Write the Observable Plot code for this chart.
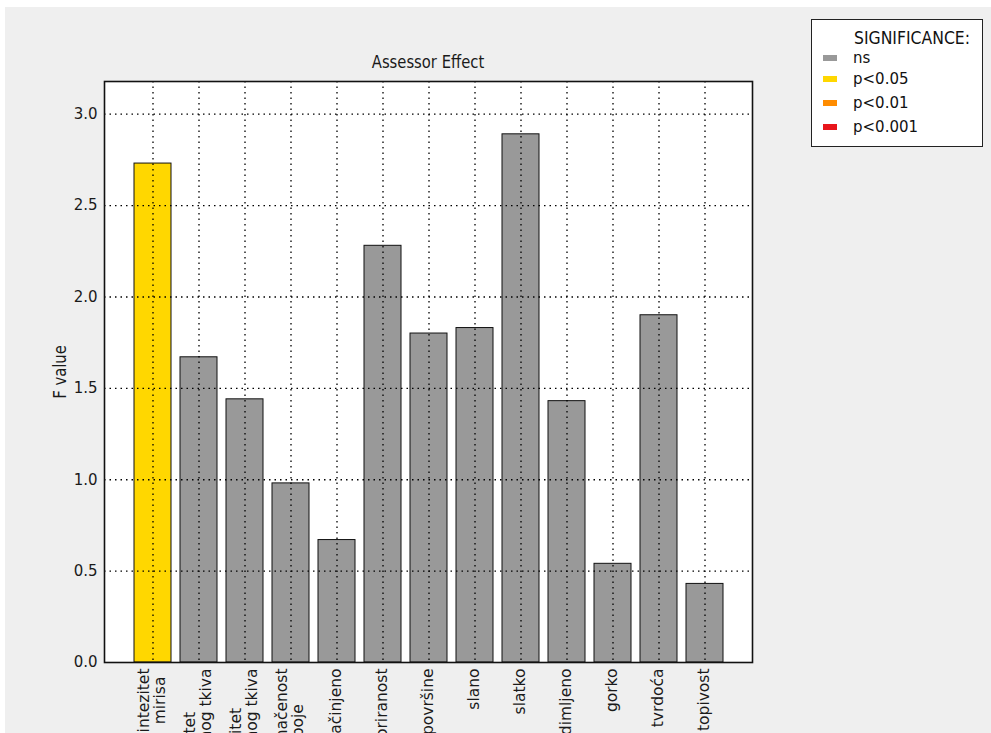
<!DOCTYPE html>
<html>
<head>
<meta charset="utf-8">
<script src="https://cdn.jsdelivr.net/npm/d3@7"></script>
<script src="https://cdn.jsdelivr.net/npm/@observablehq/plot@0.6"></script>
<style>
  html, body { margin: 0; padding: 0; background: #ffffff; overflow: hidden; width: 991px; height: 733px; }
  #fig { position: absolute; left: 5px; top: 7px; width: 986px; height: 800px; background: #efefef; overflow: hidden; }
  #chart { position: absolute; left: 0; top: 0; }
  #title { position: absolute; left: 273px; top: 45px; width: 300px; text-align: center; font-family: "DejaVu Sans", sans-serif; font-size: 17px; line-height: 20px; color: #1a1a1a; transform: scaleX(0.87); white-space: nowrap; }
  #ylabel { position: absolute; left: 5px; top: 355px; width: 100px; text-align: center; font-family: "DejaVu Sans", sans-serif; font-size: 17px; line-height: 20px; color: #1a1a1a; transform: rotate(-90deg) scaleX(0.87); white-space: nowrap; }
  #legend { position: absolute; left: 806px; top: 12px; width: 170px; height: 126px; background: #fff; border: 1px solid #222; font-family: "DejaVu Sans", sans-serif; color: #111; }
  #legend .title { position: absolute; left: 42px; top: 8px; font-family: "DejaVu Sans", sans-serif; font-size: 17px; transform: scaleX(0.92); transform-origin: 0 0; white-space: nowrap; }
  #legend .item { position: absolute; left: 11px; font-size: 15px; line-height: 18px; height: 18px; }
  #legend .sw { position: absolute; left: 0; top: 6px; width: 14px; height: 6px; }
  #legend .lb { position: absolute; left: 30px; top: 0; white-space: nowrap; }
</style>
</head>
<body>
<div id="fig">
  <div id="chart"></div>
  <div id="title"></div>
  <div id="ylabel"></div>
  <div id="legend"></div>
</div>
<script>
// ---- data ----
const categories = [
  "intezitet\nmirisa",
  "intezitet\nboje mišićnog tkiva",
  "intezitet\nboje masnog tkiva",
  "ujednačenost\nboje",
  "začinjeno",
  "mramoriranost",
  "izgled površine",
  "slano",
  "slatko",
  "dimljeno",
  "gorko",
  "tvrdoća",
  "topivost"
];
const fValues = [2.73, 1.67, 1.44, 0.98, 0.67, 2.28, 1.80, 1.83, 2.89, 1.43, 0.54, 1.90, 0.43];
const significance = ["p<0.05", "ns", "ns", "ns", "ns", "ns", "ns", "ns", "ns", "ns", "ns", "ns", "ns"];
const sigLabels = ["ns", "p<0.05", "p<0.01", "p<0.001"];
const sigColors = ["#999999", "#ffd700", "#ff8c00", "#e8161b"];
const yTicks = [0, 0.5, 1.0, 1.5, 2.0, 2.5, 3.0];
const chartTitle = "Assessor Effect";
const yLabel = "F value";
const legendTitle = "SIGNIFICANCE:";

const data = categories.map((c, i) => ({attr: c, F: fValues[i], sig: significance[i]}));

// ---- x labels: centred multi-line rotated text ----
const labelSize = 15.5;
const ctx = document.createElement("canvas").getContext("2d");
ctx.font = labelSize + "px 'DejaVu Sans'";
const labelMarks = categories.flatMap(cat => {
  const lines = cat.split("\n");
  const widths = lines.map(l => ctx.measureText(l).width);
  const maxW = Math.max(...widths);
  return lines.map((line, i) => Plot.text([cat], {
    x: d => d,
    text: () => line,
    frameAnchor: "bottom",
    rotate: -90,
    textAnchor: "end",
    lineAnchor: "middle",
    fontSize: labelSize,
    fill: "#1a1a1a",
    dy: 6 + (maxW - widths[i]) / 2,
    dx: (i - (lines.length - 1) / 2) * 16 - 1
  }));
});

const chart = Plot.plot({
  width: 986,
  height: 755,
  marginLeft: 99,
  marginRight: 239,
  marginTop: 74,
  marginBottom: 100,
  style: {background: "transparent", fontFamily: "DejaVu Sans, sans-serif", fontSize: "15px", color: "#1a1a1a", overflow: "visible"},
  x: {type: "band", domain: categories, paddingInner: 0.2, paddingOuter: 0.6, axis: null},
  y: {domain: [0, d3.max(fValues) * 1.1], axis: null},
  color: {domain: sigLabels, range: sigColors},
  marks: [
    Plot.frame({fill: "white", stroke: null}),
    Plot.barY(data, {x: "attr", y: "F", fill: "sig", stroke: "#111", strokeWidth: 1}),
    Plot.ruleY(yTicks.slice(1), {stroke: "#000", strokeWidth: 1.3, strokeDasharray: "1.5,4"}),
    Plot.ruleX(categories, {stroke: "#000", strokeWidth: 1.3, strokeDasharray: "1.5,4"}),
    Plot.axisY({ticks: yTicks, tickFormat: d3.format(".1f"), tickSize: 0, tickPadding: 7, fontSize: 15, label: null}),
    ...labelMarks,
    Plot.frame({stroke: "#111", strokeWidth: 1.6})
  ]
});
document.getElementById("chart").appendChild(chart);
document.getElementById("title").textContent = chartTitle;
document.getElementById("ylabel").textContent = yLabel;

// ---- legend ----
const legend = document.getElementById("legend");
const t = document.createElement("div");
t.className = "title";
t.textContent = legendTitle;
legend.appendChild(t);
const rowTops = [29, 50, 74, 98];
sigLabels.forEach((lab, i) => {
  const item = document.createElement("div");
  item.className = "item";
  item.style.top = rowTops[i] + "px";
  const sw = document.createElement("div");
  sw.className = "sw";
  sw.style.background = sigColors[i];
  const lb = document.createElement("div");
  lb.className = "lb";
  lb.textContent = lab;
  item.appendChild(sw);
  item.appendChild(lb);
  legend.appendChild(item);
});
</script>
</body>
</html>
